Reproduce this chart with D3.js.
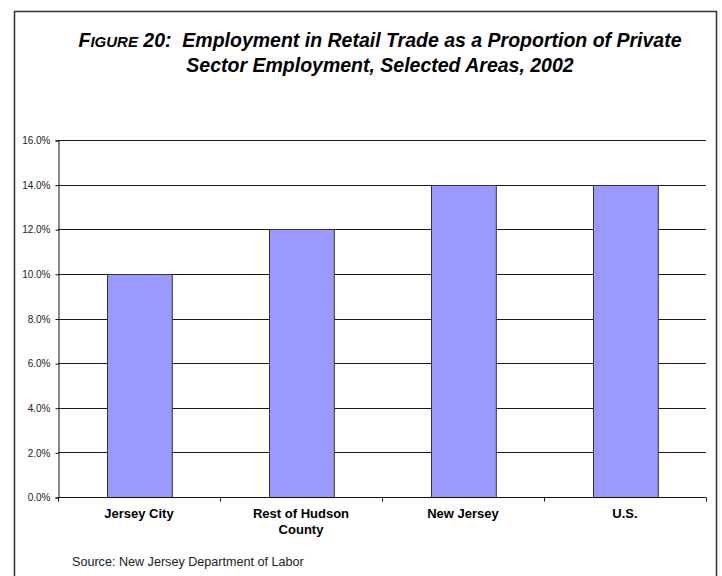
<!DOCTYPE html>
<html>
<head>
<meta charset="utf-8">
<script src="https://cdn.jsdelivr.net/npm/d3@7"></script>
<style>
  html, body { margin: 0; padding: 0; background: #fff; }
  svg { display: block; }
  text { white-space: pre; }
</style>
</head>
<body>
<svg id="chart" width="722" height="576"></svg>
<script>
// Retail trade share of private sector employment, 2002
const categories = [["Jersey City"], ["Rest of Hudson", "County"], ["New Jersey"], ["U.S."]];
const shares = [0.10, 0.12, 0.14, 0.14];
const yTicks = [0, 0.02, 0.04, 0.06, 0.08, 0.10, 0.12, 0.14, 0.16];

(function () {
const svg = d3.select("#chart");
const font = "Arial, 'Liberation Sans', sans-serif";

// Frame around the figure
svg.append("path")
  .attr("d", "M14.5,600 L14.5,11.5 L716.5,11.5 L716.5,600")
  .attr("fill", "none").attr("stroke", "#333").attr("stroke-width", 1.5);

// Title (two centred lines, "FIGURE" in small caps)
const title = svg.append("text")
  .attr("text-anchor", "middle")
  .attr("font-family", font).attr("font-weight", "bold").attr("font-style", "italic")
  .attr("font-size", 19.5).attr("fill", "#000");
const l1 = title.append("tspan").attr("x", 380).attr("y", 47);
l1.append("tspan").text("F");
l1.append("tspan").attr("font-size", 15).text("IGURE");
l1.append("tspan").text(" 20:  Employment in Retail Trade as a Proportion of Private");
title.append("tspan").attr("x", 380).attr("y", 72).text("Sector Employment, Selected Areas, 2002");

const plotLeft = 58, plotRight = 706, plotTop = 140, plotBottom = 497;

const x = d3.scaleBand()
  .domain(d3.range(categories.length))
  .range([plotLeft, plotRight])
  .paddingInner(0.6).paddingOuter(0.3);

const y = d3.scaleLinear().domain([0, 0.16]).range([plotBottom, plotTop]);

// Gridlines
svg.append("g").selectAll("line")
  .data(yTicks.filter(d => d > 0))
  .join("line")
  .attr("x1", plotLeft).attr("x2", plotRight)
  .attr("y1", d => Math.round(y(d)) + 0.5).attr("y2", d => Math.round(y(d)) + 0.5)
  .attr("stroke", "#1a1a1a").attr("stroke-width", 1);

// Bars
svg.append("g").selectAll("rect")
  .data(shares)
  .join("rect")
  .attr("x", (d, i) => Math.round(x(i)) + 0.5)
  .attr("y", d => Math.round(y(d)) + 0.5)
  .attr("width", x.bandwidth())
  .attr("height", d => Math.round(y(0)) - Math.round(y(d)))
  .attr("fill", "#9999FF")
  .attr("stroke", "#333").attr("stroke-width", 1);

// Y axis
const yAxis = d3.axisLeft(y).tickValues(yTicks).tickFormat(d3.format(".1%")).tickSize(3).tickPadding(5);
const gy = svg.append("g").attr("transform", `translate(${plotLeft + 0.5},0.5)`).call(yAxis);
gy.selectAll("text").attr("font-family", font).attr("font-size", 10).attr("fill", "#222");
gy.selectAll("line, path").attr("stroke", "#111");

// X axis with ticks at category boundaries
const gx = svg.append("g").attr("transform", `translate(0,${plotBottom + 0.5})`);
gx.append("line").attr("x1", plotLeft).attr("x2", plotRight).attr("stroke", "#111");
const boundaries = d3.range(categories.length + 1).map(i => plotLeft + i * x.step());
gx.selectAll("line.tick").data(boundaries).join("line")
  .attr("class", "tick")
  .attr("x1", d => Math.round(d) + 0.5).attr("x2", d => Math.round(d) + 0.5)
  .attr("y1", 0).attr("y2", 4).attr("stroke", "#111");

const labels = gx.selectAll("text.cat").data(categories).join("text")
  .attr("class", "cat")
  .attr("text-anchor", "middle")
  .attr("font-family", font).attr("font-weight", "bold").attr("font-size", 13)
  .attr("fill", "#000");
labels.each(function (lines, i) {
  const t = d3.select(this);
  lines.forEach((s, k) => {
    t.append("tspan").attr("x", x(i) + x.bandwidth() / 2).attr("y", 20 + k * 16).text(s);
  });
});

// Source note
svg.append("text")
  .attr("x", 72).attr("y", 566)
  .attr("font-family", font).attr("font-size", 12.6).attr("fill", "#222")
  .text("Source: New Jersey Department of Labor");
})();
</script>
</body>
</html>
